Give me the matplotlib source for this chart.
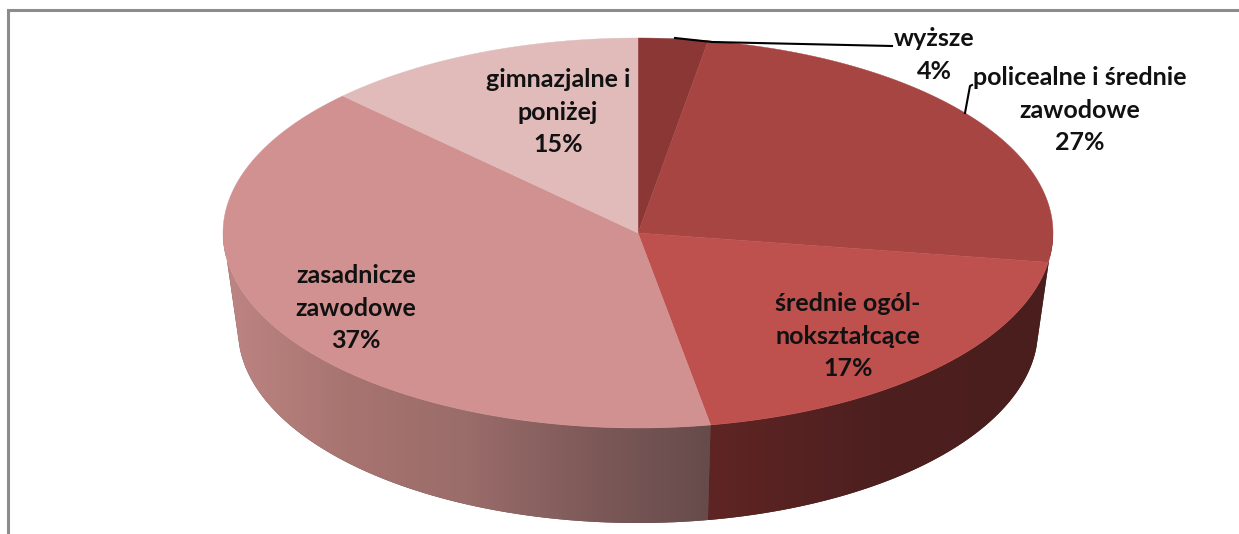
import numpy as np
import matplotlib
matplotlib.use("Agg")
import matplotlib.pyplot as plt
from matplotlib.patches import PathPatch
from matplotlib.path import Path
from matplotlib.colors import LinearSegmentedColormap

categories = ["wyższe", "policealne i średnie\nzawodowe", "średnie ogól-\nnokształcące",
              "zasadnicze\nzawodowe", "gimnazjalne i\nponiżej"]
percent_labels = [4, 27, 17, 37, 15]
# Slice extents as seen on the tilted pie (the perspective shifts them from the printed percentages)
drawn_shares = [2.7, 24.7, 19.8, 40.2, 12.6]
top_colors = ["#8A3736", "#A74543", "#BE504E", "#D09190", "#E0BBBA"]
label_centers = [(934, 55), (1080, 110), (848, 336), (356, 308), (558, 112)]
wall_left_stops = ["#BD8583", "#A87470", "#9A6C6A", "#7E5A59", "#664B4B"]
wall_right_stops = ["#5F2524", "#4D1F1F", "#4B1E1E"]
leaders = [((675, 38), (712, 42), (892, 46)), ((965, 113), (970, 86), (972, 85))]

W, H = 1239, 534
CX, CY, RX, RY = 638, 233, 415, 195
BCY, BRX, BRY = 330, 400, 193

fig = plt.figure(figsize=(W / 100, H / 100), dpi=100)
ax = fig.add_axes([0, 0, 1, 1])
ax.set_xlim(0, W)
ax.set_ylim(H, 0)
ax.axis("off")


def ell(t_deg):
    t = np.radians(t_deg)
    return CX + RX * np.sin(t), CY - RY * np.cos(t)


def ell_bottom(t_deg):
    t = np.radians(np.clip(t_deg, 95, 265))
    return CX + BRX * np.sin(t), BCY - BRY * np.cos(t)


edges = np.concatenate([[0], np.cumsum(drawn_shares) / sum(drawn_shares) * 360])


def wall(t0, t1, stops, x0, x1):
    ts = np.linspace(t0, t1, 200)
    xa, ya = ell(ts)
    xb, yb = ell_bottom(ts[::-1])
    verts = np.column_stack([np.r_[xa, xb], np.r_[ya, yb]])
    patch = PathPatch(Path(np.vstack([verts, verts[0]]), closed=True), fc=stops[-1], ec="none", zorder=0.5)
    ax.add_patch(patch)
    cmap = LinearSegmentedColormap.from_list("w", stops)
    im = ax.imshow(np.linspace(0, 1, 256)[None, :], cmap=cmap, aspect="auto",
                   extent=(x0, x1, H, 0), interpolation="bilinear", zorder=1)
    im.set_clip_path(patch)


# side walls: the front-facing parts of the 3rd and 4th slices
split = ell(edges[3])[0]
wall(edges[3], 270, wall_left_stops, CX - RX, split)
wall(90, edges[3], wall_right_stops, split - 3, CX + RX)

# top faces
for c, a, b in zip(top_colors, edges[:-1], edges[1:]):
    ts = np.linspace(a, b, 200)
    x, y = ell(ts)
    ax.fill(np.r_[CX, x], np.r_[CY, y], fc=c, ec=c, lw=0.3, zorder=2)

ax.set_xlim(0, W)
ax.set_ylim(H, 0)

# chart frame (only top and left are inside the crop)
ax.plot([8, 8, W], [H, 10, 10], color="#8C8C8C", lw=2.2, zorder=1, solid_joinstyle="miter")

# leader lines
for pts in leaders:
    ax.plot(*zip(*pts), color="black", lw=1.5, zorder=3)

# labels
for name, pct, (x, y) in zip(categories, percent_labels, label_centers):
    ax.text(x, y, f"{name}\n{pct}%", ha="center", va="center", fontsize=18,
            family="Lato", weight="bold", color="#111111", linespacing=1.5, zorder=4)

fig.savefig("out.png", dpi=100)
